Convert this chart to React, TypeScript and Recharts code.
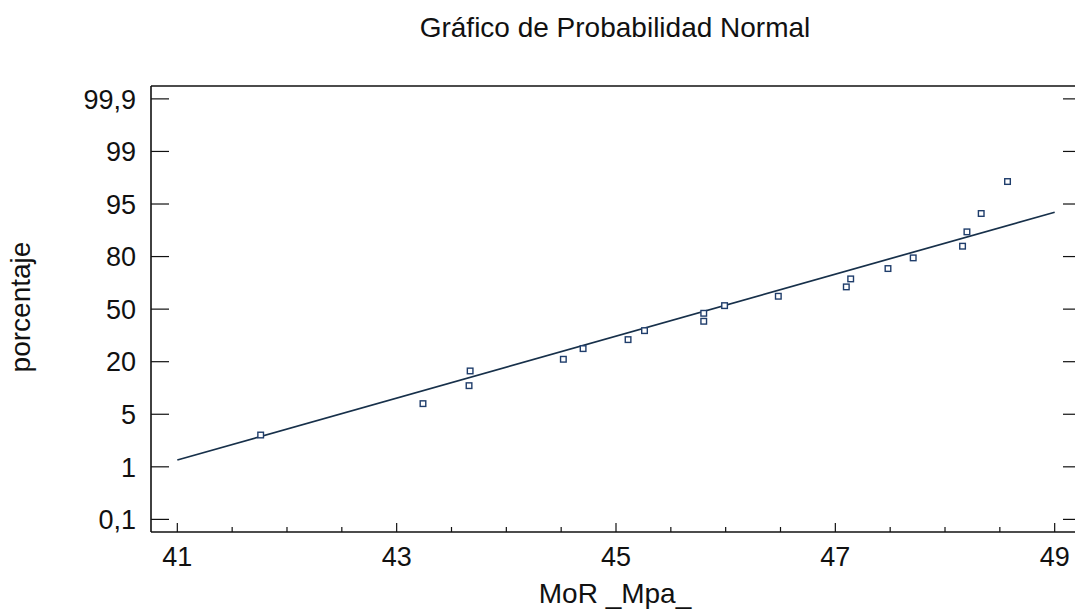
import { ScatterChart, Scatter, XAxis, YAxis } from 'recharts';

// probability axis: evenly spaced tick positions 0..8
const yTickPercents = [0.1, 1, 5, 20, 50, 80, 95, 99, 99.9];
const yTickLabels = ['0,1', '1', '5', '20', '50', '80', '95', '99', '99,9'];
const yTickPositions = [0, 1, 2, 3, 4, 5, 6, 7, 8];

const xMajorTicks = [41, 43, 45, 47, 49];
const xAllTicks = [41, 41.5, 42, 42.5, 43, 43.5, 44, 44.5, 45, 45.5, 46, 46.5, 47, 47.5, 48, 48.5, 49];

// observed values
const mor = [
  41.76, 43.24, 43.66, 43.67, 44.52, 44.7, 45.11, 45.26, 45.8, 45.8,
  45.99, 46.48, 47.1, 47.14, 47.48, 47.71, 48.16, 48.2, 48.33, 48.57,
];
const porcentaje = [
  3.42, 8.03, 13.16, 17.36, 21.38, 27.47, 32.6, 37.73, 43.07, 47.63,
  52.0, 57.35, 62.69, 67.25, 73.16, 79.25, 82.96, 87.05, 92.29, 96.71,
];

// fitted line ends
const fitMor = [41, 49];
const fitPorcentaje = [1.52, 92.66];

const FONT = '"Liberation Sans", Arial, sans-serif';
const INK = '#111111';

// percent -> position on the probability axis
const pctToPos = (p: number) => {
  for (let i = 0; i < yTickPercents.length - 1; i++) {
    const a = yTickPercents[i];
    const b = yTickPercents[i + 1];
    if (p <= b) return yTickPositions[i] + (p - a) / (b - a);
  }
  return yTickPositions[yTickPositions.length - 1];
};

const points = mor.map((m, i) => ({ x: m, y: pctToPos(porcentaje[i]) }));
const fitLine = fitMor.map((m, i) => ({ x: m, y: pctToPos(fitPorcentaje[i]) }));

const BottomTick = (props: any) => {
  const { x, y, payload } = props;
  const major = xMajorTicks.includes(payload.value);
  return (
    <g>
      <line x1={x} y1={y} x2={x} y2={y - (major ? 9 : 5)} stroke={INK} strokeWidth={1.2} />
      {major && (
        <text x={x} y={y + 34} textAnchor="middle" fontSize={27} fontFamily={FONT} fill={INK}>
          {payload.value}
        </text>
      )}
    </g>
  );
};

const TopTick = (props: any) => {
  const { x, y, payload } = props;
  const major = xMajorTicks.includes(payload.value);
  return <line x1={x} y1={y} x2={x} y2={y + (major ? 9 : 4)} stroke={INK} strokeWidth={1.2} />;
};

const LeftTick = (props: any) => {
  const { x, y, payload } = props;
  return (
    <g>
      <line x1={x} y1={y} x2={x + 18} y2={y} stroke={INK} strokeWidth={1.2} />
      <text x={x - 15} y={y} dy="0.36em" textAnchor="end" fontSize={27} fontFamily={FONT} fill={INK}>
        {yTickLabels[payload.value]}
      </text>
    </g>
  );
};

const RightTick = (props: any) => {
  const { x, y } = props;
  return <line x1={x} y1={y} x2={x - 18} y2={y} stroke={INK} strokeWidth={1.2} />;
};

const SquareDot = (props: any) => {
  const { cx, cy } = props;
  if (cx == null || cy == null) return <g />;
  return <rect x={cx - 2.8} y={cy - 2.8} width={5.6} height={5.6} fill="#ffffff" stroke="#1f3d6b" strokeWidth={1.4} />;
};

const NoDot = () => <g />;

const axisLine = { stroke: INK, strokeWidth: 1.6 };

export default function App() {
  return (
    <div style={{ position: 'absolute', left: 0, top: 0, width: 1075, height: 616, overflow: 'hidden', background: '#ffffff' }}>
      <ScatterChart width={1082} height={616} margin={{ top: 85, right: 0, bottom: 0, left: 0 }}>
        <XAxis
          dataKey="x"
          type="number"
          domain={[40.76, 49.24]}
          allowDataOverflow
          ticks={xAllTicks}
          interval={0}
          tickSize={0}
          tickMargin={0}
          tickLine={false}
          axisLine={axisLine}
          tick={<BottomTick />}
          height={84}
        />
        <XAxis
          xAxisId="top"
          orientation="top"
          type="number"
          domain={[40.76, 49.24]}
          allowDataOverflow
          ticks={xAllTicks}
          interval={0}
          tickSize={0}
          tickMargin={0}
          tickLine={false}
          axisLine={axisLine}
          tick={<TopTick />}
          height={1}
        />
        <YAxis
          dataKey="y"
          type="number"
          domain={[-0.24, 8.245]}
          allowDataOverflow
          ticks={yTickPositions}
          interval={0}
          tickSize={0}
          tickMargin={0}
          tickLine={false}
          axisLine={axisLine}
          tick={<LeftTick />}
          width={151}
        />
        <YAxis
          yAxisId="right"
          orientation="right"
          type="number"
          domain={[-0.24, 8.245]}
          allowDataOverflow
          ticks={yTickPositions}
          interval={0}
          tickSize={0}
          tickMargin={0}
          tickLine={false}
          axisLine={axisLine}
          tick={<RightTick />}
          width={1}
        />
        <Scatter
          data={fitLine}
          line={{ stroke: '#17304a', strokeWidth: 1.7 }}
          shape={<NoDot />}
          isAnimationActive={false}
        />
        <Scatter data={points} shape={<SquareDot />} isAnimationActive={false} />
      </ScatterChart>
      <svg width={1075} height={616} style={{ position: 'absolute', left: 0, top: 0, pointerEvents: 'none' }}>
        <text x={615} y={37} textAnchor="middle" fontSize={28} fontFamily={FONT} fill={INK}>
          Gráfico de Probabilidad Normal
        </text>
        <text x={615} y={603} textAnchor="middle" fontSize={28} fontFamily={FONT} fill={INK}>
          MoR _Mpa_
        </text>
        <text x={30} y={307} transform="rotate(-90, 30, 307)" textAnchor="middle" fontSize={28} fontFamily={FONT} fill={INK}>
          porcentaje
        </text>
      </svg>
    </div>
  );
}
